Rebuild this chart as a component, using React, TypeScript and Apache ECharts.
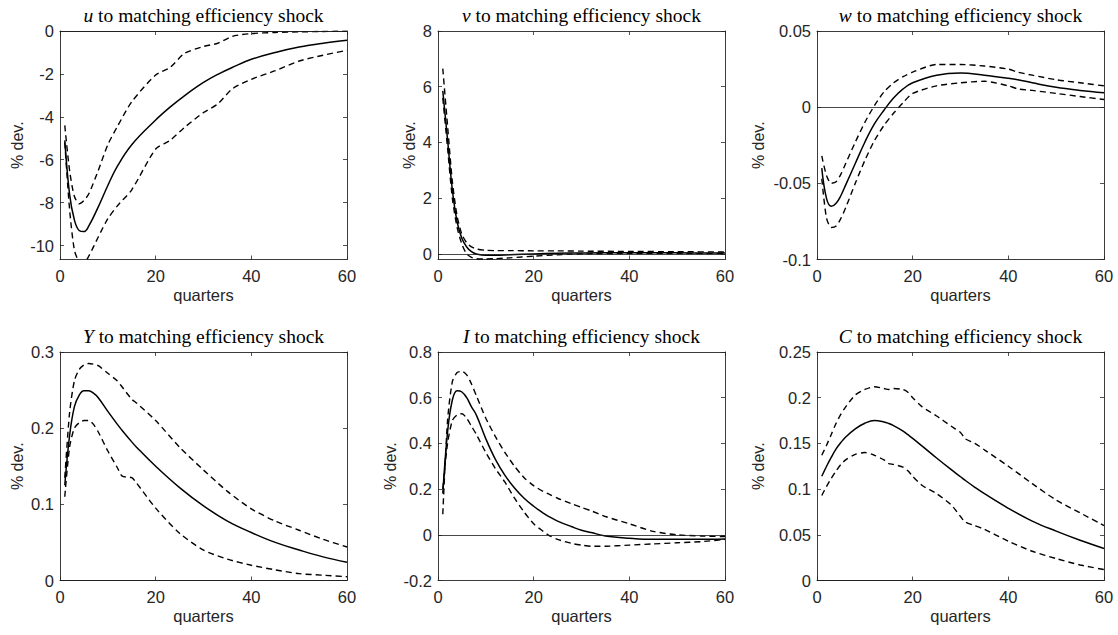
import React, { useEffect, useRef } from "react";
import * as echarts from "echarts";

// ---------- data ----------
const xTicks = [0, 20, 40, 60];

const Qu = [1, 2, 3, 4, 5, 6, 8, 10, 12, 15, 20, 23, 26, 30, 33, 36, 40, 45, 50, 55, 60];
const uMed = [-5.1, -7.6, -8.8, -9.3, -9.35, -9.1, -8.2, -7.2, -6.3, -5.3, -4.15, -3.55, -3.02, -2.4, -2.02, -1.7, -1.32, -1.0, -0.75, -0.57, -0.43];
const uUp = [-4.4, -6.5, -7.7, -8.05, -7.9, -7.6, -6.5, -5.3, -4.45, -3.3, -2.05, -1.7, -1.05, -0.72, -0.57, -0.25, -0.12, -0.07, -0.04, -0.02, -0.01];
const uLo = [-5.2, -8.3, -10.2, -10.75, -10.8, -10.5, -9.6, -8.75, -8.15, -7.4, -5.5, -5.1, -4.5, -3.8, -3.4, -2.7, -2.25, -1.85, -1.4, -1.13, -0.9];
const uTicks = [-10, -8, -6, -4, -2, 0];

const Qv = [1, 2, 3, 4, 5, 6, 7, 8, 10, 12, 15, 20, 25, 30, 40, 50, 60];
const vMed = [5.85, 4.1, 2.3, 1.15, 0.55, 0.25, 0.08, 0.0, -0.05, -0.05, -0.03, 0.0, 0.02, 0.035, 0.045, 0.04, 0.03];
const vUp = [6.65, 4.6, 2.6, 1.35, 0.7, 0.4, 0.25, 0.18, 0.13, 0.12, 0.12, 0.11, 0.11, 0.1, 0.09, 0.08, 0.07];
const vLo = [5.6, 3.8, 2.0, 0.95, 0.35, 0.0, -0.12, -0.17, -0.18, -0.17, -0.14, -0.08, -0.03, 0.0, 0.01, 0.01, 0.01];
const vTicks = [0, 2, 4, 6, 8];

const Qw = [1, 2, 3, 4, 5, 6, 8, 10, 12, 14, 16, 18, 20, 25, 30, 35, 40, 42, 45, 50, 55, 60];
const wMed = [-0.04, -0.06, -0.065, -0.063, -0.058, -0.051, -0.037, -0.023, -0.011, -0.002, 0.006, 0.012, 0.016, 0.021, 0.0225, 0.021, 0.019, 0.018, 0.016, 0.013, 0.011, 0.0095];
const wUp = [-0.032, -0.045, -0.05, -0.049, -0.044, -0.037, -0.023, -0.01, 0.001, 0.01, 0.016, 0.02, 0.023, 0.028, 0.028, 0.027, 0.025, 0.023, 0.021, 0.018, 0.016, 0.014];
const wLo = [-0.047, -0.073, -0.079, -0.078, -0.073, -0.066, -0.05, -0.035, -0.022, -0.012, -0.004, 0.003, 0.009, 0.014, 0.016, 0.017, 0.014, 0.012, 0.011, 0.009, 0.007, 0.005];
const wTicks = [-0.1, -0.05, 0, 0.05];

const QY = [1, 2, 3, 4, 5, 6, 7, 8, 10, 12, 13, 15, 16, 20, 25, 30, 35, 40, 45, 50, 55, 60];
const yMed = [0.125, 0.19, 0.228, 0.243, 0.249, 0.249, 0.246, 0.24, 0.222, 0.205, 0.197, 0.182, 0.175, 0.15, 0.122, 0.098, 0.078, 0.063, 0.05, 0.04, 0.031, 0.024];
const yUp = [0.135, 0.22, 0.262, 0.277, 0.283, 0.285, 0.284, 0.282, 0.272, 0.262, 0.254, 0.238, 0.233, 0.21, 0.175, 0.145, 0.117, 0.094, 0.078, 0.066, 0.054, 0.044];
const yLo = [0.11, 0.175, 0.2, 0.207, 0.21, 0.21, 0.205, 0.195, 0.17, 0.148, 0.137, 0.135, 0.128, 0.095, 0.062, 0.04, 0.028, 0.02, 0.014, 0.009, 0.007, 0.005];
const yTicksY = [0, 0.1, 0.2, 0.3];

const QI = [1, 2, 3, 4, 5, 6, 7, 8, 10, 12, 14, 16, 18, 20, 22, 23, 25, 28, 30, 32, 35, 40, 45, 50, 55, 60];
const iMed = [0.18, 0.45, 0.59, 0.63, 0.625, 0.6, 0.56, 0.525, 0.42, 0.33, 0.26, 0.205, 0.16, 0.125, 0.095, 0.082, 0.06, 0.035, 0.02, 0.01, -0.005, -0.015, -0.02, -0.02, -0.02, -0.018];
const iUp = [0.09, 0.5, 0.67, 0.71, 0.715, 0.7, 0.66, 0.61, 0.51, 0.43, 0.36, 0.3, 0.25, 0.215, 0.19, 0.18, 0.16, 0.135, 0.12, 0.105, 0.08, 0.048, 0.015, 0.0, -0.005, -0.008];
const iLo = [0.2, 0.4, 0.5, 0.525, 0.53, 0.51, 0.475, 0.44, 0.36, 0.29, 0.23, 0.16, 0.1, 0.048, 0.015, 0.0, -0.02, -0.038, -0.045, -0.05, -0.05, -0.045, -0.04, -0.035, -0.03, -0.02];
const iTicks = [-0.2, 0, 0.2, 0.4, 0.6, 0.8];

const QC = [1, 2, 3, 4, 5, 6, 8, 10, 12, 14, 15, 16, 18, 19, 20, 22, 25, 28, 30, 31, 33, 35, 40, 45, 50, 55, 60];
const cMed = [0.114, 0.125, 0.135, 0.144, 0.151, 0.157, 0.166, 0.172, 0.175, 0.1735, 0.1718, 0.1695, 0.1635, 0.1595, 0.1555, 0.147, 0.134, 0.1215, 0.1135, 0.1095, 0.102, 0.095, 0.079, 0.065, 0.054, 0.044, 0.035];
const cUp = [0.137, 0.148, 0.16, 0.172, 0.182, 0.19, 0.203, 0.209, 0.212, 0.21, 0.209, 0.21, 0.209, 0.206, 0.2, 0.19, 0.18, 0.169, 0.162, 0.155, 0.15, 0.143, 0.125, 0.106, 0.088, 0.074, 0.06];
const cLo = [0.093, 0.103, 0.112, 0.12, 0.127, 0.132, 0.138, 0.14, 0.137, 0.132, 0.128, 0.127, 0.124, 0.12, 0.114, 0.104, 0.095, 0.083, 0.07, 0.064, 0.06, 0.056, 0.043, 0.032, 0.024, 0.017, 0.012];
const cTicks = [0, 0.05, 0.1, 0.15, 0.2, 0.25];

const panelVars = ["u", "v", "w", "Y", "I", "C"];
const titleRest = " to matching efficiency shock";

const panels = [
  { q: Qu, med: uMed, up: uUp, lo: uLo, min: -10.65, max: 0, ticks: uTicks },
  { q: Qv, med: vMed, up: vUp, lo: vLo, min: -0.2, max: 8, ticks: vTicks },
  { q: Qw, med: wMed, up: wUp, lo: wLo, min: -0.1, max: 0.05, ticks: wTicks },
  { q: QY, med: yMed, up: yUp, lo: yLo, min: 0, max: 0.3, ticks: yTicksY },
  { q: QI, med: iMed, up: iUp, lo: iLo, min: -0.2, max: 0.8, ticks: iTicks },
  { q: QC, med: cMed, up: cUp, lo: cLo, min: 0, max: 0.25, ticks: cTicks },
];

// ---------- layout ----------
const layout = [
  { left: 60, top: 31, nameGap: 35 },
  { left: 438, top: 31, nameGap: 21 },
  { left: 817, top: 31, nameGap: 51 },
  { left: 60, top: 352, nameGap: 35 },
  { left: 438, top: 352, nameGap: 40 },
  { left: 817, top: 352, nameGap: 51 },
];
const GW = 287;
const GH = 228.5;

const AX = "#262626";
const SANS = "'Liberation Sans', Arial, Helvetica, sans-serif";
const SERIF = "'Liberation Serif', 'Times New Roman', serif";

const zip = (q: number[], v: number[]) => q.map((x, i) => [x, v[i]]);

function buildOption() {
  const grid: any[] = [];
  const xAxis: any[] = [];
  const yAxis: any[] = [];
  const series: any[] = [];
  const graphic: any[] = [];

  panels.forEach((p, i) => {
    const L = layout[i];
    grid.push({ left: L.left, top: L.top, width: GW, height: GH, show: false, containLabel: false });
    const tick = { show: true, inside: true, length: 4, lineStyle: { color: AX, width: 0.8 } };
    const line = { show: true, onZero: false, lineStyle: { color: AX, width: 0.9 } };
    xAxis.push({
      type: "value", gridIndex: i, position: "bottom", min: 0, max: 60, interval: 20,
      axisLine: line,
      axisTick: { ...tick, customValues: xTicks },
      splitLine: { show: false },
      axisLabel: { color: AX, fontSize: 16.5, fontFamily: SANS, margin: 8, customValues: xTicks },
      name: "quarters", nameLocation: "middle", nameGap: 27,
      nameTextStyle: { color: AX, fontSize: 16.5, fontFamily: SANS },
    });
    xAxis.push({
      type: "value", gridIndex: i, position: "top", min: 0, max: 60, interval: 20,
      axisLine: line, axisTick: tick, splitLine: { show: false }, axisLabel: { show: false },
    });
    yAxis.push({
      type: "value", gridIndex: i, position: "left", min: p.min, max: p.max,
      axisLine: line,
      axisTick: { ...tick, customValues: p.ticks },
      splitLine: { show: false },
      axisLabel: { color: AX, fontSize: 16.5, fontFamily: SANS, margin: 6, customValues: p.ticks },
      name: "% dev.", nameLocation: "middle", nameGap: L.nameGap, nameRotate: 90,
      nameTextStyle: { color: AX, fontSize: 16, fontFamily: SANS },
    });
    yAxis.push({
      type: "value", gridIndex: i, position: "right", min: p.min, max: p.max,
      axisLine: line,
      axisTick: { ...tick, customValues: p.ticks },
      splitLine: { show: false },
      axisLabel: { show: false, customValues: p.ticks },
    });
    const common = {
      type: "line", xAxisIndex: 2 * i, yAxisIndex: 2 * i, symbol: "none",
      showSymbol: false, silent: true, clip: true,
    };
    series.push({
      ...common, name: panelVars[i] + " median", data: zip(p.q, p.med), smooth: 0.4,
      lineStyle: { color: "#000", width: 1.5, type: "solid" }, z: 3,
      markLine: {
        silent: true, symbol: "none", label: { show: false },
        lineStyle: { color: "#1a1a1a", width: 0.8, type: "solid" },
        data: [{ yAxis: 0 }],
      },
    });
    series.push({
      ...common, name: panelVars[i] + " upper", data: zip(p.q, p.up), smooth: 0.25,
      lineStyle: { color: "#000", width: 1.4, type: [6, 4] }, z: 2,
    });
    series.push({
      ...common, name: panelVars[i] + " lower", data: zip(p.q, p.lo), smooth: 0.25,
      lineStyle: { color: "#000", width: 1.4, type: [6, 4] }, z: 2,
    });
    graphic.push({
      type: "text",
      x: L.left + GW / 2,
      y: L.top - 16,
      style: {
        text: "{i|" + panelVars[i] + "}{r|" + titleRest + "}",
        align: "center",
        verticalAlign: "middle",
        rich: {
          i: { fontFamily: SERIF, fontStyle: "italic", fontSize: 19.5, fill: "#000" },
          r: { fontFamily: SERIF, fontSize: 19.5, fill: "#000" },
        },
      },
    });
  });

  return {
    animation: false,
    backgroundColor: "#fff",
    grid, xAxis, yAxis, series, graphic,
  };
}

export default function App() {
  const ref = useRef<HTMLDivElement>(null);
  useEffect(() => {
    if (!ref.current) return;
    const chart = echarts.init(ref.current, undefined, { renderer: "svg" });
    chart.setOption(buildOption() as any);
    return () => chart.dispose();
  }, []);
  return (
    <div
      ref={ref}
      style={{ position: "absolute", left: 0, top: 0, width: 1118, height: 635, background: "#fff" }}
    />
  );
}
